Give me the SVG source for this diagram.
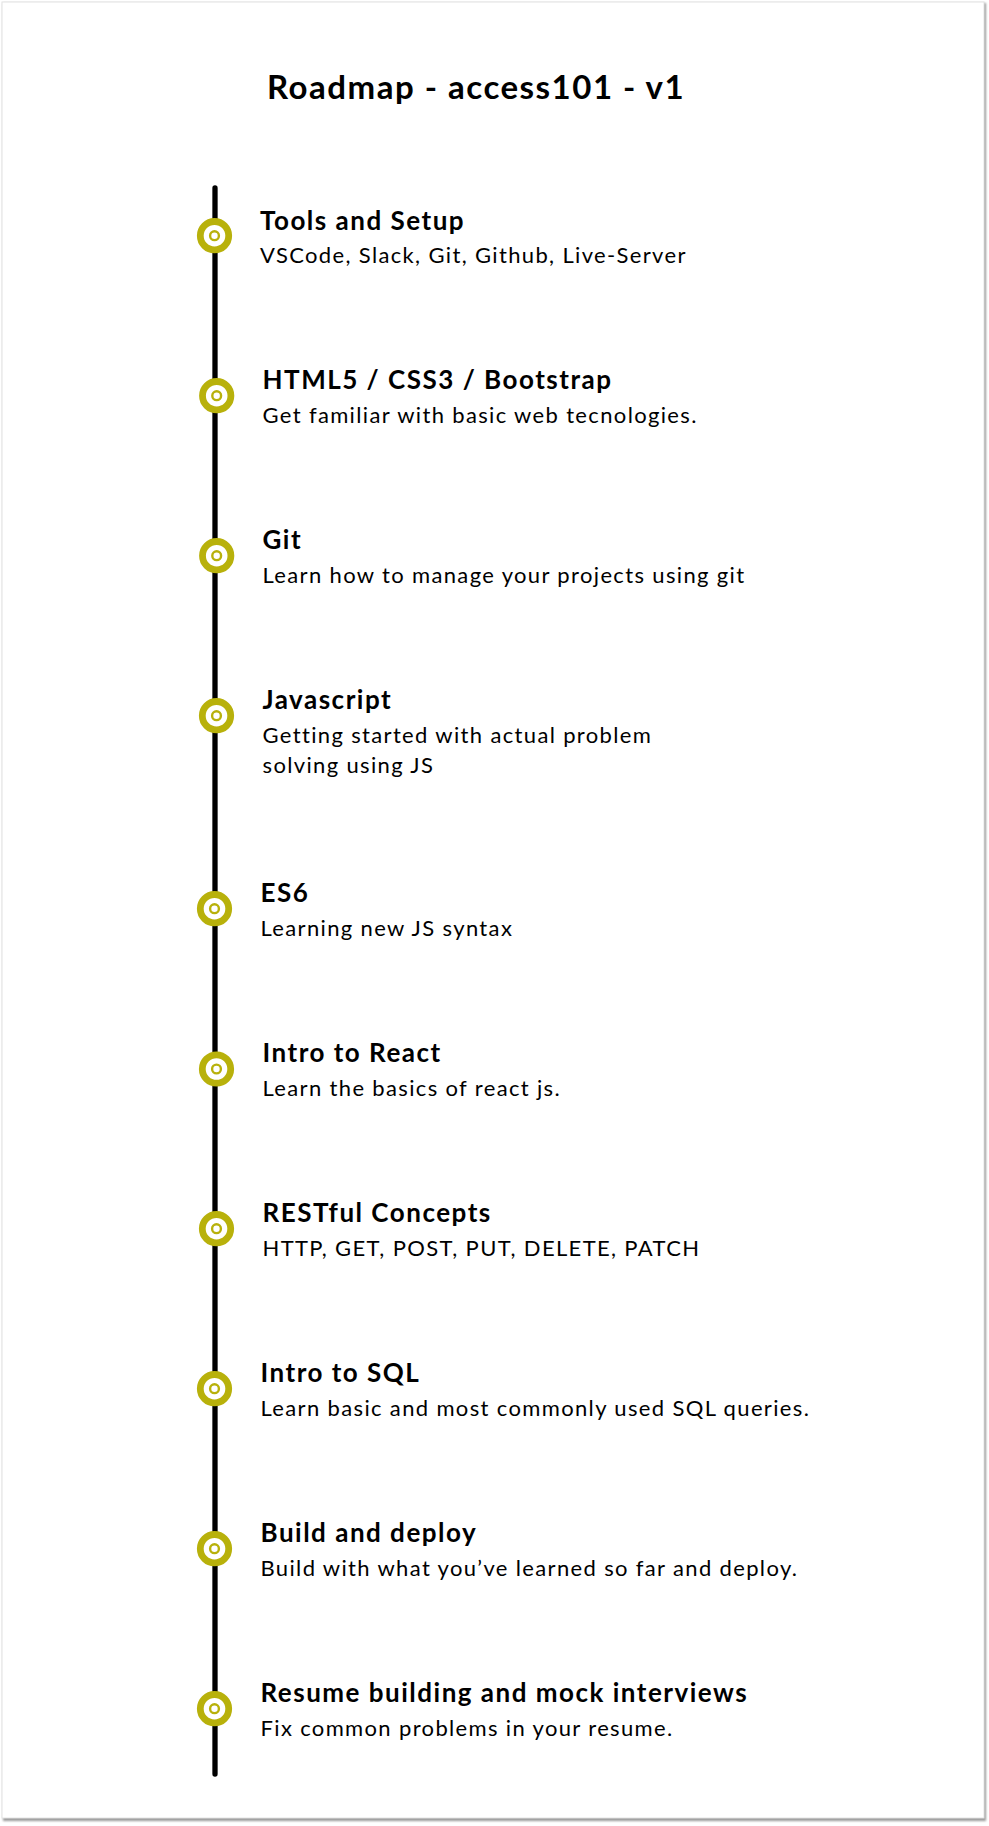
<svg xmlns="http://www.w3.org/2000/svg" width="989" height="1826" viewBox="0 0 989 1826">
<defs>
<style>
.title{font-family:Lato,"Liberation Sans",sans-serif;font-weight:700;font-size:33px;letter-spacing:1.5px;fill:#000}
.h{font-family:Lato,"Liberation Sans",sans-serif;font-weight:700;font-size:26px;letter-spacing:1.5px;fill:#000}
.s{font-family:Lato,"Liberation Sans",sans-serif;font-weight:400;font-size:22px;letter-spacing:1.35px;fill:#000}
.ring{fill:#fff;stroke:#b8b10b;stroke-width:6.8}
.dot{fill:#fff;stroke:#b8b10b;stroke-width:2.4}
</style>
<filter id="sh" x="-5%" y="-5%" width="110%" height="110%"><feGaussianBlur stdDeviation="1.2"/></filter>
</defs>
<rect width="989" height="1826" fill="#ffffff"/>
<rect x="3" y="3" width="983" height="1818" fill="#9a9a9a" filter="url(#sh)"/>
<rect x="2" y="2" width="982" height="1816" fill="#ffffff" stroke="#e2e2e2" stroke-width="1"/>
<text class="title" x="267" y="99">Roadmap - access101 - v1</text>
<g id="connectors">
<line x1="215" y1="188" x2="215" y2="1774" stroke="#000" stroke-width="5.3" stroke-linecap="round"/>
</g>
<g id="n1"><circle class="ring" cx="214.5" cy="235.7" r="14.2"/><circle class="dot" cx="214.5" cy="235.7" r="4.4"/>
<text class="h" x="260" y="230">Tools and Setup</text><text class="s" x="260" y="263">VSCode, Slack, Git, Github, Live-Server</text></g>
<g id="n2"><circle class="ring" cx="216.7" cy="395.7" r="14.2"/><circle class="dot" cx="216.7" cy="395.7" r="4.4"/>
<text class="h" x="262.5" y="389">HTML5 / CSS3 / Bootstrap</text><text class="s" x="262.5" y="423">Get familiar with basic web tecnologies.</text></g>
<g id="n3"><circle class="ring" cx="216.7" cy="555.7" r="14.2"/><circle class="dot" cx="216.7" cy="555.7" r="4.4"/>
<text class="h" x="262.5" y="549">Git</text><text class="s" x="262.5" y="583.3">Learn how to manage your projects using git</text></g>
<g id="n4"><circle class="ring" cx="216.5" cy="715.7" r="14.2"/><circle class="dot" cx="216.5" cy="715.7" r="4.4"/>
<text class="h" x="262.5" y="708.5">Javascript</text><text class="s" x="262.5" y="743.3">Getting started with actual problem</text><text class="s" x="262.5" y="773.3">solving using JS</text></g>
<g id="n5"><circle class="ring" cx="214.5" cy="908.7" r="14.2"/><circle class="dot" cx="214.5" cy="908.7" r="4.4"/>
<text class="h" x="260.5" y="902">ES6</text><text class="s" x="260.5" y="936">Learning new JS syntax</text></g>
<g id="n6"><circle class="ring" cx="216.5" cy="1069" r="14.2"/><circle class="dot" cx="216.5" cy="1069" r="4.4"/>
<text class="h" x="262.5" y="1062">Intro to React</text><text class="s" x="262.5" y="1096">Learn the basics of react js.</text></g>
<g id="n7"><circle class="ring" cx="216.5" cy="1228.7" r="14.2"/><circle class="dot" cx="216.5" cy="1228.7" r="4.4"/>
<text class="h" x="262.5" y="1222">RESTful Concepts</text><text class="s" x="262.5" y="1256">HTTP, GET, POST, PUT, DELETE, PATCH</text></g>
<g id="n8"><circle class="ring" cx="214.5" cy="1388.7" r="14.2"/><circle class="dot" cx="214.5" cy="1388.7" r="4.4"/>
<text class="h" x="260.5" y="1382">Intro to SQL</text><text class="s" x="260.5" y="1416">Learn basic and most commonly used SQL queries.</text></g>
<g id="n9"><circle class="ring" cx="214.5" cy="1548.7" r="14.2"/><circle class="dot" cx="214.5" cy="1548.7" r="4.4"/>
<text class="h" x="260.5" y="1542">Build and deploy</text><text class="s" x="260.5" y="1575.5">Build with what you’ve learned so far and deploy.</text></g>
<g id="n10"><circle class="ring" cx="214.5" cy="1708.7" r="14.2"/><circle class="dot" cx="214.5" cy="1708.7" r="4.4"/>
<text class="h" x="260.5" y="1702">Resume building and mock interviews</text><text class="s" x="260.5" y="1735.5">Fix common problems in your resume.</text></g>
</svg>
